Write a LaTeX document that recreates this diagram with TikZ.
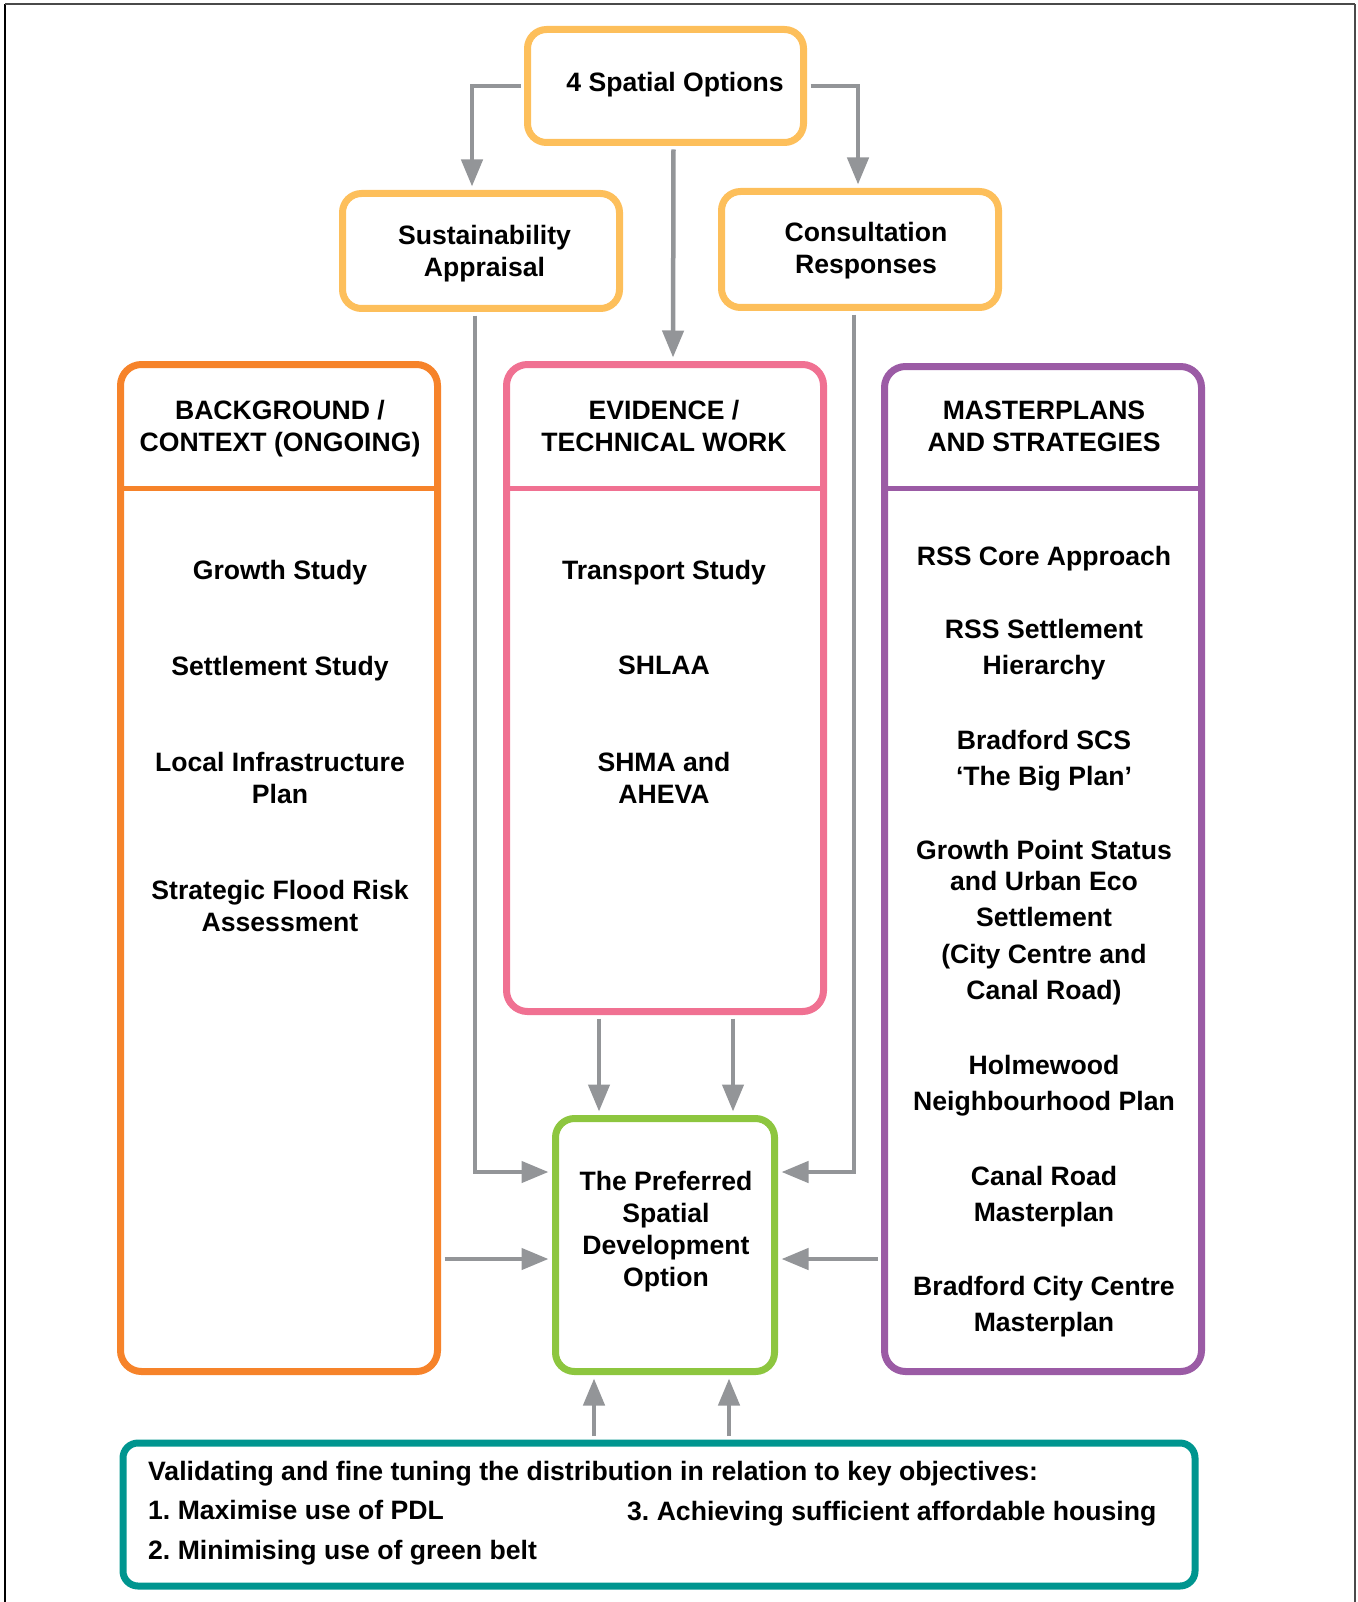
\documentclass[tikz,border=0pt]{standalone}
\usepackage{fontspec}
\setmainfont{Liberation Sans}
\usetikzlibrary{arrows.meta}
\frenchspacing

\definecolor{optyellow}{HTML}{FDBF5B}
\definecolor{bgorange}{HTML}{F6832A}
\definecolor{evpink}{HTML}{F07192}
\definecolor{mppurple}{HTML}{9B5BA5}
\definecolor{prefgreen}{HTML}{8DC63F}
\definecolor{objteal}{HTML}{00958F}
\definecolor{linkgray}{HTML}{939598}
\definecolor{framegray}{HTML}{4A4A4A}

\begin{document}
\begin{tikzpicture}[x=1pt,y=-1pt,
  box/.style={draw=#1, line width=7pt, rounded corners=19pt, inner sep=0pt, fill=none},
  txt/.style={font=\bfseries\fontsize{26.6}{32}\selectfont, align=center, anchor=north, inner sep=0pt},
  txtm/.style={font=\bfseries\fontsize{26.6}{36.5}\selectfont, align=center, anchor=north, inner sep=0pt},
  link/.style={draw=linkgray, line width=4.5pt, shorten >=3.5pt, shorten <=3.5pt,
    -{Triangle[length=27pt,width=21pt]}},
  divider/.style={draw=#1, line width=5pt}
]
\useasboundingbox (0,0) rectangle (1357,1602);

% outer frame
\draw[black, line width=1.8pt] (5,1602) -- (5,4);
\draw[framegray, line width=1.8pt] (5,4) -- (1355,4);
\draw[framegray, line width=2.5pt] (1355,4) -- (1355,1602);

% top row
\node[box=optyellow, minimum width=276pt, minimum height=113pt] (top) at (665.5,86) {};
\node[txt] (toptxt) at (675,72.5) {4 Spatial Options};

\node[box=optyellow, minimum width=277pt, minimum height=115pt] (sa) at (481,251) {};
\node[txt] (satxt) at (484.5,225.5) {Sustainability\\Appraisal};

\node[box=optyellow, minimum width=277pt, minimum height=116pt] (cr) at (860,249.5) {};
\node[txt] (crtxt) at (866,222.5) {Consultation\\Responses};

% three columns
\node[box=bgorange, rounded corners=21pt, minimum width=317pt, minimum height=1007pt] (bg) at (279,868) {};
\node[box=evpink, rounded corners=21pt, minimum width=317pt, minimum height=647pt] (ev) at (665,688) {};
\node[box=mppurple, rounded corners=21pt, minimum width=317pt, minimum height=1005pt] (mp) at (1043,869) {};

\draw[divider=bgorange] (bg.west |- 0,488) -- (bg.east |- 0,488);
\draw[divider=evpink] (ev.west |- 0,488) -- (ev.east |- 0,488);
\draw[divider=mppurple] (mp.west |- 0,488) -- (mp.east |- 0,488);

% column headers
\node[txt] (bghead) at (280,400.5) {BACKGROUND /\\CONTEXT (ONGOING)};
\node[txt] (evhead) at (664,400.5) {EVIDENCE /\\TECHNICAL WORK};
\node[txt] (mphead) at (1044,400.5) {MASTERPLANS\\AND STRATEGIES};

% background items
\node[txt] (bg1) at (280,560) {Growth Study};
\node[txt] (bg2) at (280,656) {Settlement Study};
\node[txt] (bg3) at (280,752) {Local Infrastructure\\Plan};
\node[txt] (bg4) at (280,880) {Strategic Flood Risk\\Assessment};

% evidence items
\node[txt] (ev1) at (664,560) {Transport Study};
\node[txt] (ev2) at (664,656) {SHLAA};
\node[txt] (ev3) at (664,752) {SHMA and\\AHEVA};

% masterplan items
\node[txtm] (mp1) at (1044,546) {RSS Core Approach};
\node[txtm] (mp2) at (1044,619) {RSS Settlement\\Hierarchy};
\node[txtm] (mp3) at (1044,730) {Bradford SCS\\‘The Big Plan’};
\node[txtm] (mp4) at (1044,840) {Growth Point Status\\[-5.5pt]and Urban Eco\\Settlement\\(City Centre and\\Canal Road)};
\node[txtm] (mp5) at (1044,1055) {Holmewood\\Neighbourhood Plan};
\node[txtm] (mp6) at (1044,1166) {Canal Road\\Masterplan};
\node[txtm] (mp7) at (1044,1276) {Bradford City Centre\\Masterplan};

% preferred option
\node[box=prefgreen, rounded corners=19pt, minimum width=219pt, minimum height=253pt] (gr) at (665,1245) {};
\node[txt] (grtxt) at (666,1171) {The Preferred\\Spatial\\Development\\Option};

% objectives
\node[box=objteal, rounded corners=15pt, minimum width=1072pt, minimum height=143pt] (tl) at (659,1514.5) {};
\node[txt, align=left, anchor=north west, font=\bfseries\fontsize{26.6}{39.5}\selectfont] (obj) at (148,1461)
  {Validating and fine tuning the distribution in relation to key objectives:\\1. Maximise use of PDL\\2. Minimising use of green belt};
\node[txt, anchor=north west] (obj3) at (627,1501) {3. Achieving sufficient affordable housing};

% connector end points on the preferred option
\coordinate (gwA) at ([yshift=73pt]gr.west);
\coordinate (geA) at ([yshift=73pt]gr.east);
\coordinate (gwB) at ([yshift=-14pt]gr.west);
\coordinate (geB) at ([yshift=-14pt]gr.east);
\coordinate (gn1) at ([xshift=-66pt]gr.north);
\coordinate (gn2) at ([xshift=68pt]gr.north);
\coordinate (gs1) at ([xshift=-71pt]gr.south);
\coordinate (gs2) at ([xshift=64pt]gr.south);

% connectors
\draw[link] (top.west) -| ([xshift=-9pt]sa.north);
\draw[link] (top.east) -| ([xshift=-2pt]cr.north);
\draw[link] ([xshift=8pt]top.south) -- ([xshift=8pt]ev.north);
\draw[link] ([xshift=-6pt]sa.south) |- (gwA);
\draw[link] ([xshift=-6pt]cr.south) |- (geA);
\draw[link] (bg.east |- gwB) -- (gwB);
\draw[link] (mp.west |- geB) -- (geB);
\draw[link] (ev.south -| gn1) -- (gn1);
\draw[link] (ev.south -| gn2) -- (gn2);
\draw[link] (tl.north -| gs1) -- (gs1);
\draw[link] (tl.north -| gs2) -- (gs2);
\end{tikzpicture}
\end{document}
